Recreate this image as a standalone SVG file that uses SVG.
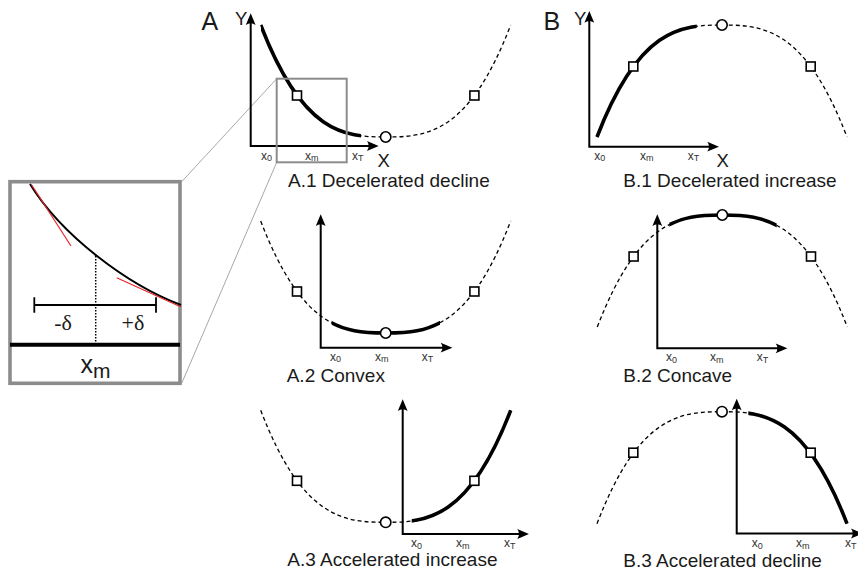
<svg xmlns="http://www.w3.org/2000/svg" xmlns:xlink="http://www.w3.org/1999/xlink" width="858" height="573" viewBox="0 0 858 573">
<style>
text{font-family:"Liberation Sans",Arial,sans-serif;fill:#1a1a1a}
.big{font-size:25px}
.ax{font-size:18.5px}
.title{font-size:19px}
.lb{font-size:12px;fill:#333}
.sub{font-size:9px}
.axis{fill:none;stroke:#000;stroke-width:2;marker-start:url(#ar);marker-end:url(#ae)}
.dash{fill:none;stroke:#000;stroke-width:1.3;stroke-dasharray:4 3}
.solid{fill:none;stroke:#000;stroke-width:3.6}
.sq{fill:#fff;stroke:#000;stroke-width:1.6}
.ci{fill:#fff;stroke:#000;stroke-width:1.6}
.gray{fill:none;stroke:#8c8c8c}
.link{stroke:#a8a8a8;stroke-width:1;fill:none}
.dl{font-family:"Liberation Serif","Times New Roman",serif;font-size:22px}
</style>
<defs>
<marker id="ae" markerUnits="userSpaceOnUse" markerWidth="14" markerHeight="12" viewBox="-11 -5 12 10" refX="-4" refY="0" orient="auto">
<path d="M0,0 L-10,-4.2 Q-7,0 -10,4.2 Z" fill="#000"/>
</marker>
<marker id="ar" markerUnits="userSpaceOnUse" markerWidth="14" markerHeight="12" viewBox="-11 -5 12 10" refX="-4" refY="0" orient="auto-start-reverse">
<path d="M0,0 L-10,-4.2 Q-7,0 -10,4.2 Z" fill="#000"/>
</marker>
<path id="u" d="M-125,-112 C-83.3,-3.5 -41.7,0 0,0 C41.7,0 83.3,-3.5 125,-112"/>
<path id="n" d="M-125,112 C-83.3,3.5 -41.7,0 0,0 C41.7,0 83.3,3.5 125,112"/>
<clipPath id="cA1"><rect x="261" y="0" width="100" height="195"/></clipPath>
<clipPath id="cA2"><rect x="331.7" y="200" width="108.3" height="190"/></clipPath>
<clipPath id="cA3"><rect x="411.7" y="390" width="105" height="183"/></clipPath>
<clipPath id="cB1"><rect x="590" y="0" width="106.7" height="195"/></clipPath>
<clipPath id="cB2"><rect x="669.3" y="200" width="107.4" height="190"/></clipPath>
<clipPath id="cB3"><rect x="748.3" y="390" width="102" height="183"/></clipPath>
</defs>

<g id="zoom-links">
<line class="link" x1="181.7" y1="181.7" x2="276.7" y2="78.7"/>
<line class="link" x1="181.7" y1="383.3" x2="276.7" y2="162.3"/>
</g>

<g id="panel-A1">
<text class="big" x="201.5" y="30">A</text>
<text class="ax" x="235" y="25">Y</text>
<use href="#u" class="dash" transform="translate(385.7,137)"/>
<g clip-path="url(#cA1)"><use href="#u" class="solid" transform="translate(385.7,137)"/></g>
<path class="axis" d="M250.7,18 V146 H374"/>
<rect class="gray" x="276.7" y="78.7" width="70" height="83.6" stroke-width="2"/>
<rect class="sq" x="292.5" y="91" width="9" height="9"/>
<rect class="sq" x="469.9" y="91" width="9" height="9"/>
<circle class="ci" cx="385.7" cy="137" r="5.2"/>
<text class="lb" x="261" y="159.5">x<tspan class="sub" dy="1.5">0</tspan></text>
<text class="lb" x="305" y="159.5">x<tspan class="sub" dy="1.5">m</tspan></text>
<text class="lb" x="352" y="159.5">x<tspan class="sub" dy="1.5">T</tspan></text>
<text class="ax" x="377.5" y="166.7">X</text>
<text class="title" x="288" y="186.7">A.1 Decelerated decline</text>
</g>

<g id="panel-A2">
<use href="#u" class="dash" transform="translate(385.7,333)"/>
<g clip-path="url(#cA2)"><use href="#u" class="solid" transform="translate(385.7,333)"/></g>
<path class="axis" d="M320.7,219 V347.7 H447.7"/>
<rect class="sq" x="292.5" y="287" width="9" height="9"/>
<rect class="sq" x="469.9" y="287" width="9" height="9"/>
<circle class="ci" cx="385.7" cy="333" r="5.2"/>
<text class="lb" x="330" y="360.5">x<tspan class="sub" dy="1.5">0</tspan></text>
<text class="lb" x="375" y="360.5">x<tspan class="sub" dy="1.5">m</tspan></text>
<text class="lb" x="421.7" y="360.5">x<tspan class="sub" dy="1.5">T</tspan></text>
<text class="title" x="286.7" y="381.7">A.2 Convex</text>
</g>

<g id="panel-A3">
<use href="#u" class="dash" transform="translate(385.7,522.3)"/>
<g clip-path="url(#cA3)"><use href="#u" class="solid" transform="translate(385.7,522.3)"/></g>
<path class="axis" d="M402.7,404 V534 H524.3"/>
<rect class="sq" x="292.5" y="476.3" width="9" height="9"/>
<rect class="sq" x="469.9" y="476.3" width="9" height="9"/>
<circle class="ci" cx="385.7" cy="522.3" r="5.2"/>
<text class="lb" x="411" y="547">x<tspan class="sub" dy="1.5">0</tspan></text>
<text class="lb" x="456" y="547">x<tspan class="sub" dy="1.5">m</tspan></text>
<text class="lb" x="504" y="547">x<tspan class="sub" dy="1.5">T</tspan></text>
<text class="title" x="287.3" y="566">A.3 Accelerated increase</text>
</g>

<g id="panel-B1">
<text class="big" x="543.5" y="30">B</text>
<text class="ax" x="574" y="25">Y</text>
<use href="#n" class="dash" transform="translate(722,25)"/>
<g clip-path="url(#cB1)"><use href="#n" class="solid" transform="translate(722,25)"/></g>
<path class="axis" d="M589.3,15.7 V146.7 H714.3"/>
<rect class="sq" x="628.8" y="62" width="9" height="9"/>
<rect class="sq" x="806.2" y="62" width="9" height="9"/>
<circle class="ci" cx="722" cy="25" r="5.2"/>
<text class="lb" x="594.3" y="159.5">x<tspan class="sub" dy="1.5">0</tspan></text>
<text class="lb" x="640" y="159.5">x<tspan class="sub" dy="1.5">m</tspan></text>
<text class="lb" x="687.7" y="159.5">x<tspan class="sub" dy="1.5">T</tspan></text>
<text class="ax" x="716.5" y="166.7">X</text>
<text class="title" x="623.3" y="186.7">B.1 Decelerated increase</text>
</g>

<g id="panel-B2">
<use href="#n" class="dash" transform="translate(722.3,215)"/>
<g clip-path="url(#cB2)"><use href="#n" class="solid" transform="translate(722.3,215)"/></g>
<path class="axis" d="M657.3,219 V348.3 H782.7"/>
<rect class="sq" x="629.1" y="252" width="9" height="9"/>
<rect class="sq" x="806.5" y="252" width="9" height="9"/>
<circle class="ci" cx="722.3" cy="215" r="5.2"/>
<text class="lb" x="666" y="361">x<tspan class="sub" dy="1.5">0</tspan></text>
<text class="lb" x="710" y="361">x<tspan class="sub" dy="1.5">m</tspan></text>
<text class="lb" x="756.7" y="361">x<tspan class="sub" dy="1.5">T</tspan></text>
<text class="title" x="623.3" y="381.7">B.2 Concave</text>
</g>

<g id="panel-B3">
<use href="#n" class="dash" transform="translate(722,411.7)"/>
<g clip-path="url(#cB3)"><use href="#n" class="solid" transform="translate(722,411.7)"/></g>
<path class="axis" d="M736.7,403.3 V533.5 H858"/>
<rect class="sq" x="628.8" y="448.2" width="9" height="9"/>
<rect class="sq" x="806.2" y="448.2" width="9" height="9"/>
<circle class="ci" cx="722" cy="411.7" r="5.2"/>
<text class="lb" x="751.7" y="547">x<tspan class="sub" dy="1.5">0</tspan></text>
<text class="lb" x="796" y="547">x<tspan class="sub" dy="1.5">m</tspan></text>
<text class="lb" x="845" y="547">x<tspan class="sub" dy="1.5">T</tspan></text>
<text class="title" x="623.3" y="566.5">B.3 Accelerated decline</text>
</g>

<g id="inset">
<rect x="10" y="181.7" width="170" height="201.6" fill="#fff" stroke="#8c8c8c" stroke-width="3.6"/>
<path d="M30,184 C62,236 128,285 181,305" fill="none" stroke="#000" stroke-width="2"/>
<line x1="31.7" y1="185" x2="71" y2="246" stroke="#e8262a" stroke-width="1.2"/>
<line x1="116.7" y1="277.7" x2="180.5" y2="306.7" stroke="#e8262a" stroke-width="1.2"/>
<line x1="95.7" y1="256" x2="95.7" y2="343" stroke="#000" stroke-width="1.5" stroke-dasharray="1.5 1.5"/>
<path d="M34.3,297.3 V312.7 M34.3,305 H156 M156,297.3 V312.7" fill="none" stroke="#000" stroke-width="1.8"/>
<text class="dl" x="63" y="330" text-anchor="middle">-δ</text>
<text class="dl" x="133" y="330" text-anchor="middle">+δ</text>
<line x1="10" y1="344.7" x2="180" y2="344.7" stroke="#000" stroke-width="4"/>
<text x="80.5" y="373" style="font-size:25px">x<tspan style="font-size:21px" dy="5">m</tspan></text>
</g>
</svg>
